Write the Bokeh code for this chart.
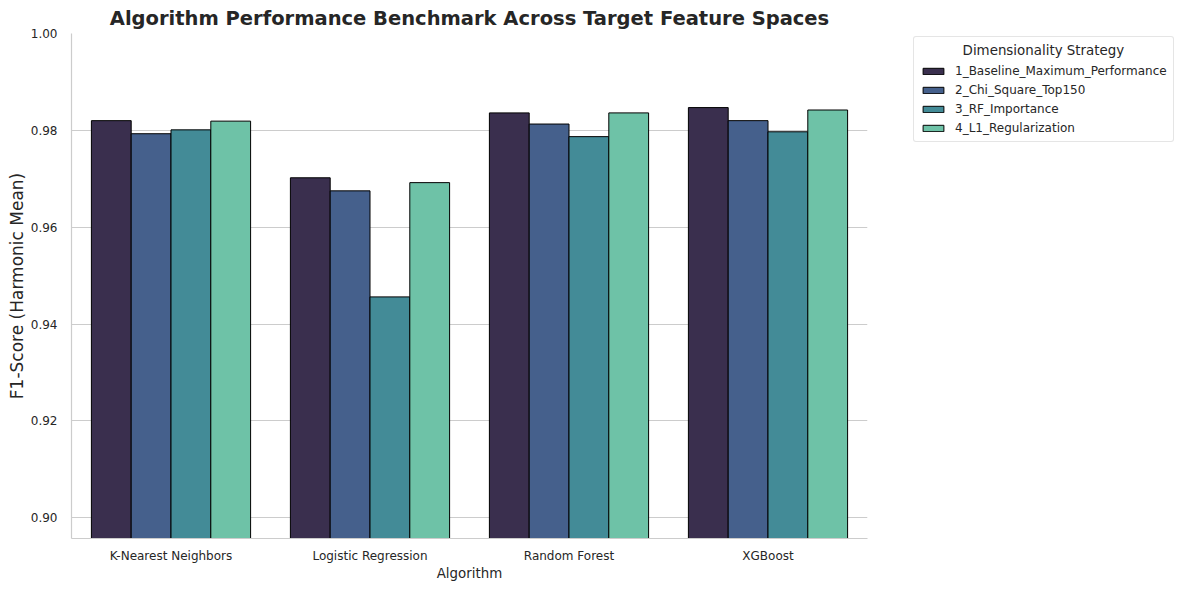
from bokeh.plotting import figure
from bokeh.models import ColumnDataSource, Range1d, FixedTicker, Legend, LegendItem, NumeralTickFormatter
from bokeh.transform import dodge
from bokeh.embed import file_html
from bokeh.resources import INLINE

algorithms = ["K-Nearest Neighbors", "Logistic Regression", "Random Forest", "XGBoost"]
strategies = ["1_Baseline_Maximum_Performance", "2_Chi_Square_Top150", "3_RF_Importance", "4_L1_Regularization"]

baseline = [0.9820, 0.9702, 0.9836, 0.9847]
chi_square = [0.9793, 0.9675, 0.9813, 0.9820]
rf_importance = [0.9801, 0.9456, 0.9787, 0.9797]
l1_reg = [0.9819, 0.9692, 0.9836, 0.9842]

colors = ["#3A2F4E", "#45608C", "#438B97", "#6EC2A7"]
y_ticks = [0.90, 0.92, 0.94, 0.96, 0.98, 1.00]

FONT = "DejaVu Sans"
TEXT = "#262626"

p = figure(x_range=algorithms, y_range=Range1d(0.8957, 1.0),
           frame_width=796, frame_height=505, width=1165, height=575,
           output_backend="svg", toolbar_location=None,
           title="Algorithm Performance Benchmark Across Target Feature Spaces",
           min_border_left=60, min_border_right=300, min_border_bottom=5, min_border_top=0)
p.margin = (0, 0, 0, 3)

p.title.align = "center"
p.title.text_font = FONT
p.title.text_font_size = "19.5px"
p.title.text_font_style = "bold"
p.title.text_color = TEXT
p.title.standoff = 8

items = []
for i, vals in enumerate([baseline, chi_square, rf_importance, l1_reg]):
    src = ColumnDataSource(dict(algorithm=algorithms, value=vals))
    r = p.vbar(x=dodge("algorithm", -0.3 + 0.2 * i, range=p.x_range), top="value", bottom=0.85,
               width=0.2, source=src, fill_color=colors[i], line_color="black", line_width=1)
    items.append(LegendItem(label=strategies[i], renderers=[r]))

# non-breaking spaces to centre the legend title over the entries
legend = Legend(items=items, location=(46, 396), title="\u00a0" * 10 + "Dimensionality Strategy")
legend.title_text_font = FONT
legend.title_text_font_size = "13.4px"
legend.title_text_font_style = "normal"
legend.title_text_color = TEXT
legend.title_standoff = 6
legend.label_text_font = FONT
legend.label_text_font_size = "12px"
legend.label_text_color = TEXT
legend.glyph_width = 26
legend.glyph_height = 8
legend.label_height = 12
legend.label_standoff = 9
legend.spacing = 5
legend.padding = 6
legend.margin = 0
legend.border_line_color = "#cccccc"
legend.border_radius = 3
p.add_layout(legend, "right")

p.xgrid.grid_line_color = None
p.ygrid.grid_line_color = "#cccccc"
p.ygrid.grid_line_width = 1
p.outline_line_color = None

p.yaxis.ticker = FixedTicker(ticks=y_ticks)
p.yaxis.formatter = NumeralTickFormatter(format="0.00")
p.yaxis.axis_label = "F1-Score (Harmonic Mean)"
p.xaxis.axis_label = "Algorithm"

for ax in [p.xaxis[0], p.yaxis[0]]:
    ax.axis_line_color = "#cccccc"
    ax.axis_line_width = 1.2
    ax.major_tick_line_color = None
    ax.minor_tick_line_color = None
    ax.major_label_text_font = FONT
    ax.major_label_text_font_size = "12px"
    ax.major_label_text_color = TEXT
    ax.axis_label_text_font = FONT
    ax.axis_label_text_font_style = "normal"
    ax.axis_label_text_color = TEXT

p.yaxis.axis_label_text_font_size = "17px"
p.xaxis.axis_label_text_font_size = "13.4px"
p.xaxis.major_label_standoff = 4
p.yaxis.major_label_standoff = 8
p.xaxis.axis_label_standoff = 0
p.yaxis.axis_label_standoff = 1

open("out.html", "w").write(file_html(p, INLINE))
